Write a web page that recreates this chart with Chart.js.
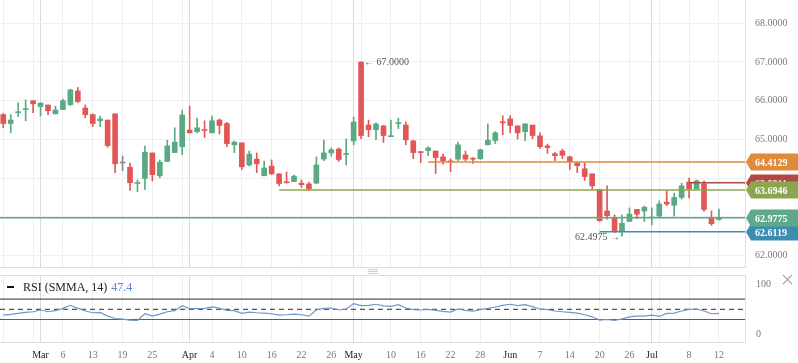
<!DOCTYPE html>
<html>
<head>
<meta charset="utf-8">
<script src="https://cdn.jsdelivr.net/npm/chart.js@4.4.1/dist/chart.umd.min.js"></script>
<style>
html, body { margin: 0; padding: 0; background: #fff; }
#wrap { position: relative; width: 798px; height: 363px; overflow: hidden; font-family: 'Liberation Serif', serif; }
#main { position: absolute; left: 0; top: 0; }
#rsi { position: absolute; left: 0; top: 268px; }
.legend { position: absolute; left: 23px; top: 280px; font-size: 12px; line-height: 14px; color: #222; white-space: nowrap; }
.legend b { font-weight: normal; color: #5b87c7; margin-left: 4px; }
.dash { position: absolute; left: 7px; top: 286px; width: 7px; height: 2px; background: #111; }
.grip { position: absolute; left: 368px; top: 269px; width: 10px; }
.grip i { display: block; height: 1px; background: #cfcfcf; margin-bottom: 1px; }
.close { position: absolute; left: 781px; top: 273px; width: 13px; height: 13px; }
.close i { position: absolute; left: 0; top: 6px; width: 13px; height: 1px; background: #999; }
.close i:first-child { transform: rotate(45deg); }
.close i:last-child { transform: rotate(-45deg); }
</style>
</head>
<body>
<div id="wrap">
  <canvas id="main" width="798" height="268"></canvas>
  <canvas id="rsi" width="798" height="95"></canvas>
  <div class="grip"><i></i><i></i><i></i></div>
  <div class="dash"></div>
  <div class="legend">RSI (SMMA, 14)<b>47.4</b></div>
  <div class="close"><i></i><i></i></div>
</div>
<script>
// bougies journalières, index 0..96
const OPEN = [65.64,65.41,65.69,65.77,66.00,65.85,65.89,65.66,65.77,65.90,
  66.25,65.81,65.64,65.48,65.50,65.66,64.39,64.28,63.86,63.99,
  64.65,64.06,64.43,64.66,64.81,65.24,65.20,65.24,65.17,65.50,
  65.41,64.86,64.91,64.34,64.49,64.06,64.31,64.11,63.90,63.91,
  63.87,63.85,63.87,64.49,64.65,64.75,64.61,64.96,67.00,65.37,
  65.25,65.35,65.07,65.41,65.37,64.96,64.68,64.71,64.70,64.55,
  64.44,64.49,64.60,64.50,64.50,64.86,64.97,65.45,65.53,65.35,
  65.20,65.37,65.09,64.83,64.63,64.70,64.55,64.39,64.24,64.11,
  63.71,63.15,62.98,62.62,62.88,63.19,63.15,62.97,63.02,63.38,
  63.30,63.50,63.90,63.72,63.85,62.98,62.93];
const HIGH = [65.67,65.64,65.95,66.02,66.00,65.94,65.89,65.86,66.04,66.30,
  66.34,65.89,65.66,65.60,65.50,65.66,64.57,64.39,63.95,64.83,
  64.65,64.47,64.98,65.30,65.76,65.86,65.55,65.48,65.60,65.53,
  65.44,64.96,64.91,64.70,64.65,64.44,64.47,64.11,64.16,64.08,
  63.95,63.90,64.55,64.98,64.78,64.78,65.01,65.58,67.00,65.50,
  65.43,65.36,65.50,65.55,65.45,64.98,64.68,64.81,64.70,64.62,
  64.50,64.93,64.70,64.53,64.75,65.40,65.20,65.61,65.61,65.35,
  65.40,65.37,65.17,64.88,64.66,64.75,64.57,64.39,64.39,64.11,
  63.71,63.80,63.05,63.05,63.23,63.19,63.28,63.23,63.41,63.67,
  63.61,63.87,64.00,63.95,63.93,63.15,63.20];
const LOW = [65.30,65.17,65.59,65.48,65.69,65.61,65.64,65.66,65.77,65.87,
  65.95,65.56,65.33,65.33,64.80,64.14,64.19,63.68,63.65,63.70,
  63.93,64.01,64.43,64.66,64.61,65.16,65.17,65.05,65.17,65.14,
  64.81,64.66,64.22,64.31,64.14,64.06,64.09,63.80,63.87,63.91,
  63.76,63.68,63.85,64.45,64.57,64.43,64.34,64.86,65.02,65.07,
  64.99,64.92,65.07,65.28,64.86,64.50,64.40,64.58,64.12,64.36,
  64.17,64.45,64.44,64.38,64.48,64.86,64.89,65.12,65.17,65.01,
  64.97,65.02,64.77,64.64,64.45,64.50,64.22,64.14,63.94,63.71,
  62.88,62.94,62.59,62.4975,62.88,62.95,62.88,62.79,63.00,63.29,
  63.02,63.46,63.49,63.72,63.14,62.78,62.91];
const CLOSE = [65.41,65.50,65.71,65.79,65.92,65.94,65.74,65.76,66.00,66.28,
  65.98,65.64,65.41,65.53,64.84,64.37,64.39,63.88,63.87,64.67,
  64.09,64.41,64.83,64.93,65.63,65.17,65.30,65.23,65.48,65.36,
  64.89,64.93,64.29,64.62,64.37,64.26,64.11,63.86,63.88,64.05,
  63.83,63.72,64.34,64.65,64.73,64.48,64.63,65.45,65.10,65.25,
  65.40,65.10,65.09,65.42,64.99,64.66,64.66,64.78,64.53,64.45,
  64.42,64.86,64.49,64.49,64.73,64.98,65.17,65.43,65.36,65.17,
  65.40,65.10,64.81,64.79,64.58,64.59,64.43,64.32,64.04,63.80,
  62.90,63.03,62.62,62.83,63.07,63.07,63.25,62.99,63.33,63.33,
  63.50,63.80,63.72,63.93,63.19,62.82,62.9775];
const RSI = [38.7,40,42,44,45.3,48.7,45.3,47.3,52,58,
  52,46.7,43.3,44,36.7,32,30.7,28.7,28,41.3,
  36.7,40.7,45.3,47.3,57.3,51.3,51.3,52,54.7,52.7,
  48,47.3,42,44.7,43.3,42.7,41.3,38.7,39.3,40.7,
  39.3,36.7,48.7,52,52.7,48.7,50.7,61.3,57.3,58,
  60,56.7,56,59.3,52.7,49.3,48.7,50,48,46,
  44.7,50.7,48,46.7,49.3,52,54.7,58,60,57.3,
  59.3,55.3,50.7,49.3,46.7,45.3,44,42.7,39.3,35.3,
  28.7,30,28,31.3,35.3,36.7,36.7,38.7,36,42,
  42.7,46.7,50,50.7,46.7,41.3,42];

// axe des dates
const TICK_INDEX = [5,8,12,16,20,25,28,32,36,40,44,47,52,56,60,64,68,72,76,80,84,87,92,96];
const TICK_TEXT = ['Mar','6','13','19','25','Apr','4','10','16','22','26','May','10','16','22','28','Jun','7','14','20','26','Jul','8','12'];
const MONTH_LINE = [5,25,47,87];
const X_MIN = -0.44, X_MAX = 99.5;

// prix
const PRICE_TICKS = [62,63,64,65,66,67,68];
const PRICE_HIDDEN = [63,64]; // cachés sous les étiquettes
const Y_MIN = 61.703, Y_MAX = 68.602;

// niveaux horizontaux
const LEVEL_VALUE = [64.4129, 63.8811, 63.6946, 62.6119, 62.9775];
const LEVEL_FROM = [57, 92, 37, 80, X_MIN];
const LEVEL_COLOR = ['#e08a3c', '#b04848', '#8ca64f', '#3c8eb0', '#5fa98b'];

const HIGH_IDX = 48, HIGH_VAL = 67.0;
const LOW_IDX = 83, LOW_VAL = 62.4975;

const RSI_LEVELS = [70, 50, 30];
const RSI_TICKS = [0, 100];

const FONT = 'Liberation Serif';
const UP = '#5aa982', DOWN = '#e25656', FLAT = '#888888';
const GRID = '#eceef1', GRID_MONTH = '#d8dbde', BORDER = '#dcdfe2';

function candleColor(i) {
    if (CLOSE[i] > OPEN[i]) return UP;
    if (CLOSE[i] < OPEN[i]) return DOWN;
    return FLAT;
}

const xTicks = [];
for (let i = 0; i <= 96; i += 4) xTicks.push(i);
MONTH_LINE.forEach(m => { if (!xTicks.includes(m)) xTicks.push(m); });
xTicks.sort((a, b) => a - b);

function xScale(showLabels) {
    return {
        type: 'linear', min: X_MIN, max: X_MAX, offset: false,
        afterBuildTicks: sc => { sc.ticks = xTicks.map(v => ({ value: v })); },
        afterFit: sc => {
            sc.paddingLeft = 0; sc.paddingRight = 0;
            sc.height = showLabels ? 21 : 0;
        },
        grid: {
            offset: false, drawTicks: false,
            color: c => (c.tick && MONTH_LINE.includes(c.tick.value)) ? GRID_MONTH : GRID
        },
        border: { display: true, color: BORDER },
        ticks: {
            display: showLabels, autoSkip: false, maxRotation: 0, padding: 7,
            font: { family: FONT, size: 10 },
            color: c => {
                const k = TICK_INDEX.indexOf(c.tick.value);
                return (k >= 0 && isNaN(Number(TICK_TEXT[k]))) ? '#222' : '#777';
            },
            callback: v => {
                const k = TICK_INDEX.indexOf(v);
                return k >= 0 ? TICK_TEXT[k] : '';
            }
        }
    };
}

const markers = {
    id: 'markers',
    afterDatasetsDraw(chart) {
        const { ctx, scales } = chart;
        ctx.save();
        ctx.font = '10px "' + FONT + '"';
        ctx.fillStyle = '#555';
        ctx.textBaseline = 'middle';
        ctx.textAlign = 'left';
        ctx.fillText('\u2190 ' + HIGH_VAL.toFixed(4),
            scales.x.getPixelForValue(HIGH_IDX) + 3, scales.y.getPixelForValue(HIGH_VAL));
        ctx.textAlign = 'right';
        ctx.fillText(LOW_VAL.toFixed(4) + ' \u2192',
            scales.x.getPixelForValue(LOW_IDX) - 2, scales.y.getPixelForValue(LOW_VAL) + 1);
        ctx.restore();
    },
    afterDraw(chart) {
        const { ctx, scales } = chart;
        const x0 = scales.y.left + 1;
        const h = 17;
        ctx.save();
        LEVEL_VALUE.forEach((v, k) => {
            const y = Math.round(scales.y.getPixelForValue(v));
            ctx.beginPath();
            ctx.moveTo(x0, y);
            ctx.lineTo(x0 + 5, y - h / 2);
            ctx.lineTo(800, y - h / 2);
            ctx.lineTo(800, y + h / 2);
            ctx.lineTo(x0 + 5, y + h / 2);
            ctx.closePath();
            ctx.fillStyle = LEVEL_COLOR[k];
            ctx.fill();
            ctx.fillStyle = '#fff';
            ctx.font = 'bold 10px "' + FONT + '"';
            ctx.textAlign = 'left';
            ctx.textBaseline = 'middle';
            ctx.fillText(v.toFixed(4), x0 + 9, y + 1);
        });
        ctx.restore();
    }
};

const levelSets = LEVEL_VALUE.map((v, k) => ({
    type: 'line',
    data: [{ x: LEVEL_FROM[k], y: v }, { x: X_MAX, y: v }],
    borderColor: LEVEL_COLOR[k], borderWidth: 1.5,
    pointRadius: 0, fill: false
}));

new Chart(document.getElementById('main'), {
    type: 'line',
    data: {
        datasets: [
            ...levelSets,
            {
                type: 'bar',
                data: OPEN.map((o, i) => ({ x: i, y: [Math.min(o, CLOSE[i]), Math.max(o, CLOSE[i])] })),
                backgroundColor: OPEN.map((o, i) => candleColor(i)),
                barThickness: 5, grouped: false, minBarLength: 1, borderWidth: 0
            },
            {
                type: 'bar',
                data: OPEN.map((o, i) => ({ x: i, y: [LOW[i], HIGH[i]] })),
                backgroundColor: OPEN.map((o, i) => candleColor(i)),
                barThickness: 1, grouped: false, borderWidth: 0
            }
        ]
    },
    options: {
        responsive: false, animation: false, devicePixelRatio: 1,
        layout: { padding: { top: 0, right: 0, left: 0, bottom: 1 } },
        plugins: { legend: { display: false }, tooltip: { enabled: false } },
        scales: {
            x: xScale(false),
            y: {
                type: 'linear', position: 'right', min: Y_MIN, max: Y_MAX,
                afterBuildTicks: sc => { sc.ticks = PRICE_TICKS.map(v => ({ value: v })); },
                afterFit: sc => { sc.width = 53; sc.paddingTop = 0; sc.paddingBottom = 0; },
                grid: { color: GRID, drawTicks: false },
                border: { display: true, color: BORDER },
                ticks: {
                    padding: 10, color: '#7a7a7a', font: { family: FONT, size: 10 },
                    callback: v => PRICE_HIDDEN.includes(v) ? '' : v.toFixed(4)
                }
            }
        }
    },
    plugins: [markers]
});

const topLine = {
    id: 'topLine',
    afterDraw(chart) {
        const { ctx, chartArea } = chart;
        ctx.save();
        ctx.strokeStyle = BORDER;
        ctx.lineWidth = 1;
        ctx.beginPath();
        ctx.moveTo(chartArea.left, chartArea.top + 0.5);
        ctx.lineTo(chartArea.right, chartArea.top + 0.5);
        ctx.stroke();
        ctx.restore();
    }
};

new Chart(document.getElementById('rsi'), {
    type: 'line',
    data: {
        datasets: [
            {
                data: RSI.map((r, i) => ({ x: i, y: r })),
                borderColor: '#7096cc', borderWidth: 1.2, pointRadius: 0, tension: 0,
                fill: { target: { value: 30 }, above: 'rgba(0,0,0,0)', below: 'rgba(225,95,95,0.85)' }
            },
            ...RSI_LEVELS.map(l => ({
                data: [{ x: X_MIN, y: l }, { x: X_MAX, y: l }],
                borderColor: '#555', borderWidth: 1.2, pointRadius: 0, fill: false,
                borderDash: l === 50 ? [5, 4] : []
            }))
        ]
    },
    options: {
        responsive: false, animation: false, devicePixelRatio: 1,
        layout: { padding: { top: 7, right: 0, left: 0, bottom: 0 } },
        plugins: { legend: { display: false }, tooltip: { enabled: false } },
        scales: {
            x: xScale(true),
            y: {
                type: 'linear', position: 'right', min: -14.4, max: 117.75,
                afterBuildTicks: sc => { sc.ticks = RSI_TICKS.map(v => ({ value: v })); },
                afterFit: sc => { sc.width = 53; sc.paddingTop = 0; sc.paddingBottom = 0; },
                grid: { display: false, drawTicks: false },
                border: { display: true, color: BORDER },
                ticks: { padding: 11, color: '#7a7a7a', font: { family: FONT, size: 10 } }
            }
        }
    },
    plugins: [topLine]
});
</script>
</body>
</html>
